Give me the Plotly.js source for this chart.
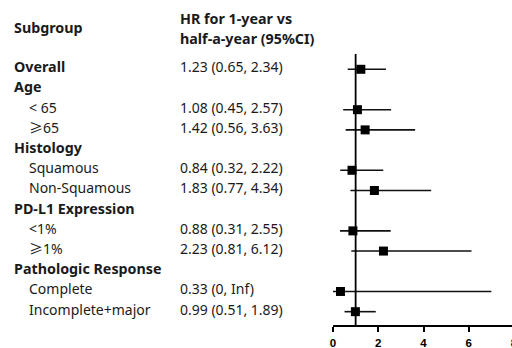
<!DOCTYPE html>
<html>
<head>
<meta charset="utf-8">
<script src="https://cdn.plot.ly/plotly-3.0.1.min.js"></script>
<style>
html, body { margin: 0; padding: 0; width: 512px; height: 348px; overflow: hidden; background: #fff; }
#chart { width: 516px; height: 348px; }
</style>
</head>
<body>
<div id="chart"></div>
<script>
// Row labels (in display order) and which rows are group headers
const labels = ["Overall", "Age", "< 65", "\u226565", "Histology", "Squamous", "Non-Squamous",
  "PD-L1 Expression", "<1%", "\u22651%", "Pathologic Response", "Complete", "Incomplete+major"];
const isHeader = [true, true, false, false, true, false, false, true, false, false, true, false, false];
const hrText = ["1.23 (0.65, 2.34)", "", "1.08 (0.45, 2.57)", "1.42 (0.56, 3.63)", "",
  "0.84 (0.32, 2.22)", "1.83 (0.77, 4.34)", "", "0.88 (0.31, 2.55)", "2.23 (0.81, 6.12)", "",
  "0.33 (0, Inf)", "0.99 (0.51, 1.89)"];
// Estimates (null for group header rows without an estimate)
const hr    = [1.23, null, 1.08, 1.42, null, 0.84, 1.83, null, 0.88, 2.23, null, 0.33, 0.99];
const lower = [0.65, null, 0.45, 0.56, null, 0.32, 0.77, null, 0.31, 0.81, null, 0.00, 0.51];
const upper = [2.34, null, 2.57, 3.63, null, 2.22, 4.34, null, 2.55, 6.12, null, Infinity, 1.89];
const infDrawnAt = 7.0;   // where an infinite upper bound is drawn
const xTicks = [0, 2, 4, 6, 8];
const refLine = 1;
const headerSubgroup = "Subgroup";
const headerHR = ["HR for 1-year vs", "half-a-year (95%CI)"];

const rows = labels.map((_, i) => i);
const ys = [], xs = [], ep = [], em = [];
hr.forEach((v, i) => {
  if (v === null) return;
  const up = isFinite(upper[i]) ? upper[i] : infDrawnAt;
  ys.push(rows[i]); xs.push(v); ep.push(up - v); em.push(v - lower[i]);
});

const W = 516, ML = 333, MR = 2, MT = 54, MB = 23, H = 348;
const PW = W - ML - MR, PH = H - MT - MB;
const px = p => (p - ML) / PW;          // pixel column -> paper x
const py = p => (H - MB - p) / PH;      // pixel row -> paper y
const textShift = -0.13;                // text sits slightly above marker centres

const fontReg = "Noto Sans, Liberation Sans, sans-serif";
const txtColor = "#1a1a1a";
const geFix = s => s.replace(/\u2265/g, '<span style="font-family:Noto Sans CJK SC">\u2265</span>');
const ann = [];
labels.forEach((t, i) => {
  ann.push({ xref: "paper", yref: "y", x: px(isHeader[i] ? 12 : 27), y: rows[i] + textShift,
    text: isHeader[i] ? "<b>" + t + "</b>" : geFix(t),
    showarrow: false, xanchor: "left", yanchor: "middle",
    font: { family: fontReg, size: isHeader[i] ? 14.3 : 14, color: txtColor } });
  if (hrText[i]) ann.push({ xref: "paper", yref: "y", x: px(178), y: rows[i] + textShift, text: hrText[i],
    showarrow: false, xanchor: "left", yanchor: "middle",
    font: { family: fontReg, size: 14, color: txtColor } });
});
ann.push({ xref: "paper", yref: "paper", x: px(12), y: py(28), text: "<b>" + headerSubgroup + "</b>", showarrow: false,
  xanchor: "left", yanchor: "middle", font: { family: fontReg, size: 14.3, color: txtColor } });
ann.push({ xref: "paper", yref: "paper", x: px(178), y: py(18.5), text: "<b>" + headerHR[0] + "</b>", showarrow: false,
  xanchor: "left", yanchor: "middle", font: { family: fontReg, size: 14.3, color: txtColor } });
ann.push({ xref: "paper", yref: "paper", x: px(178), y: py(38.5), text: "<b>" + headerHR[1] + "</b>", showarrow: false,
  xanchor: "left", yanchor: "middle", font: { family: fontReg, size: 14.3, color: txtColor } });

const trace = {
  type: "scatter", mode: "markers", x: xs, y: ys, cliponaxis: false,
  marker: { symbol: "square", size: 9, color: "#000" },
  error_x: { type: "data", symmetric: false, array: ep, arrayminus: em, width: 0, thickness: 1.6, color: "#111" },
  hoverinfo: "skip"
};

const layout = {
  width: W, height: H,
  margin: { l: ML, r: MR, t: MT, b: MB, pad: 0 },
  paper_bgcolor: "#fff", plot_bgcolor: "#fff",
  showlegend: false,
  xaxis: { range: [0, 8], tickvals: xTicks, ticktext: xTicks.map(String),
    showgrid: false, zeroline: false, showline: true, linecolor: "#000", linewidth: 2,
    ticks: "outside", ticklen: 5, tickwidth: 2, tickcolor: "#000", ticklabelstandoff: 1,
    ticklabeloverflow: "allow",
    tickfont: { family: "Liberation Sans, Arial, sans-serif", size: 11.5, weight: "bold", color: "#000" }, fixedrange: true },
  yaxis: { range: [12.66, -0.757], showgrid: false, zeroline: false, showline: false, showticklabels: false, ticks: "", fixedrange: true },
  shapes: [{ type: "line", xref: "x", yref: "paper", x0: refLine, x1: refLine, y0: 0, y1: 1,
    line: { color: "#000", width: 1.8 } }],
  annotations: ann
};

Plotly.newPlot("chart", [trace], layout, { staticPlot: true, displayModeBar: false });
</script>
</body>
</html>
